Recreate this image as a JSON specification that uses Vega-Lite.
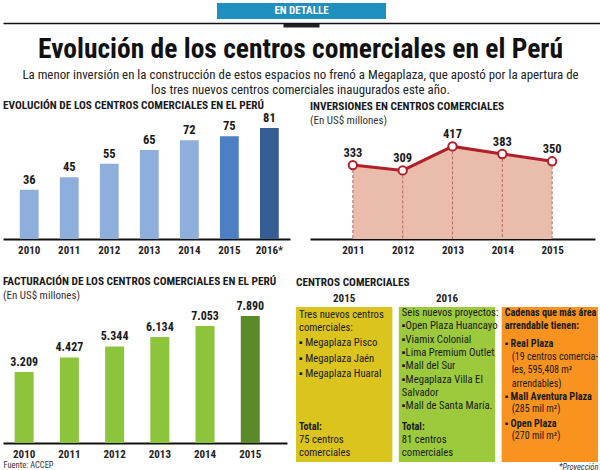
{
  "$schema": "https://vega.github.io/schema/vega-lite/v6.json",
  "padding": {"left": 3, "top": 3, "right": 0, "bottom": 0},
  "background": "white",
  "config": {
    "font": "Roboto Condensed",
    "view": {"stroke": null},
    "locale": {"number": {"decimal": ",", "thousands": ".", "grouping": [3], "currency": ["US$", ""]}},
    "title": {"anchor": "start", "fontSize": 11.3, "fontWeight": "bold", "color": "#1a1a1a", "subtitleFontSize": 11, "subtitleColor": "#333333", "subtitlePadding": 3, "offset": 2},
    "axis": {"labelFontWeight": "bold", "labelFontSize": 11, "labelColor": "#222222", "domainColor": "#111111", "domainWidth": 2, "ticks": false, "grid": false}
  },
  "spacing": -9,
  "resolve": {"scale": {"x": "independent", "y": "independent", "color": "independent"}},
  "vconcat": [
    {
      "width": 597,
      "height": 16,
      "data": {"values": [{"label": "EN DETALLE"}]},
      "layer": [
        {
          "mark": {"type": "bar", "color": "#1f8fbe"},
          "encoding": {
            "x": {"field": "label", "type": "nominal", "scale": {"paddingInner": 0.21, "paddingOuter": 1},
              "axis": {"title": null, "labels": false, "ticks": true, "tickSize": 4, "tickWidth": 36, "tickColor": "#222222", "domainColor": "#111111", "domainWidth": 1.5, "offset": 4}}
          }
        },
        {
          "mark": {"type": "text", "color": "white", "fontWeight": "bold", "fontSize": 11},
          "encoding": {
            "x": {"field": "label", "type": "nominal"},
            "text": {"field": "label"}
          }
        }
      ]
    },
    {
      "title": {
        "text": "Evolución de los centros comerciales en el Perú",
        "anchor": "middle",
        "fontSize": 27.5,
        "fontWeight": "bold",
        "color": "#111111",
        "offset": 3,
        "subtitle": ["La menor inversión en la construcción de estos espacios no frenó a Megaplaza, que apostó por la apertura de", "los tres nuevos centros comerciales inaugurados este año."],
        "subtitleFontSize": 12.9,
        "subtitleColor": "#222222",
        "subtitleLineHeight": 15,
        "subtitlePadding": 5
      },
      "spacing": 20,
      "resolve": {"scale": {"x": "independent", "y": "independent", "color": "independent"}},
      "vconcat": [
        {
          "spacing": 20,
          "resolve": {"scale": {"x": "independent", "y": "independent", "color": "independent"}},
          "hconcat": [
            {
              "width": 287,
              "height": 111,
              "title": {"text": "EVOLUCIÓN DE LOS CENTROS COMERCIALES EN EL PERÚ", "offset": 1},
              "data": {"values": [
                {"year": "2010", "centros": 36},
                {"year": "2011", "centros": 45},
                {"year": "2012", "centros": 55},
                {"year": "2013", "centros": 65},
                {"year": "2014", "centros": 72},
                {"year": "2015", "centros": 75},
                {"year": "2016*", "centros": 81}
              ]},
              "encoding": {
                "x": {"field": "year", "type": "ordinal", "scale": {"paddingInner": 0.53, "paddingOuter": 0.35, "align": 0.6},
                  "axis": {"title": null, "labelAngle": 0, "labelPadding": 5}},
                "y": {"field": "centros", "type": "quantitative", "scale": {"domain": [0, 81]}, "axis": null}
              },
              "layer": [
                {
                  "mark": {"type": "bar"},
                  "encoding": {
                    "color": {"field": "year", "type": "nominal",
                      "scale": {"domain": ["2010", "2011", "2012", "2013", "2014", "2015", "2016*"],
                        "range": ["#8eaedb", "#8eaedb", "#8eaedb", "#8eaedb", "#8eaedb", "#4d7fc3", "#375e94"]},
                      "legend": null}
                  }
                },
                {
                  "mark": {"type": "text", "baseline": "bottom", "dy": -3, "fontWeight": "bold", "fontSize": 12.5, "color": "#1a1a1a"},
                  "encoding": {"text": {"field": "centros", "type": "quantitative"}}
                }
              ]
            },
            {
              "width": 285,
              "height": 111,
              "title": {"text": "INVERSIONES EN CENTROS COMERCIALES", "subtitle": "(En US$ millones)"},
              "data": {"values": [
                {"year": "2011", "inversion": 333},
                {"year": "2012", "inversion": 309},
                {"year": "2013", "inversion": 417},
                {"year": "2014", "inversion": 383},
                {"year": "2015", "inversion": 350}
              ]},
              "encoding": {
                "x": {"field": "year", "type": "ordinal", "scale": {"type": "point", "padding": 0.86},
                  "axis": {"title": null, "labelAngle": 0, "labelPadding": 5}},
                "y": {"field": "inversion", "type": "quantitative", "scale": {"domain": [0, 500]}, "axis": null}
              },
              "layer": [
                {"mark": {"type": "area", "color": "#e9bcab", "opacity": 1}},
                {"mark": {"type": "rule", "color": "#b06a6a", "strokeDash": [3, 2], "strokeWidth": 1}, "encoding": {"y2": {"datum": 0}}},
                {"mark": {"type": "line", "color": "#b01f2a", "strokeWidth": 3}},
                {"mark": {"type": "point", "filled": true, "fill": "white", "stroke": "#b01f2a", "strokeWidth": 2, "size": 70, "opacity": 1}},
                {"mark": {"type": "text", "dy": -12, "fontWeight": "bold", "fontSize": 12.5, "color": "#1a1a1a"}, "encoding": {"text": {"field": "inversion", "type": "quantitative"}}}
              ]
            }
          ]
        },
        {
          "spacing": 9,
          "resolve": {"scale": {"x": "independent", "y": "independent", "color": "independent"}},
          "hconcat": [
            {
              "width": 284,
              "height": 136,
              "title": {"text": "FACTURACIÓN DE LOS CENTROS COMERCIALES EN EL PERÚ", "subtitle": "(En US$ millones)", "offset": -1},
              "data": {"values": [
                {"year": "2010", "facturacion": 3209},
                {"year": "2011", "facturacion": 4427},
                {"year": "2012", "facturacion": 5344},
                {"year": "2013", "facturacion": 6134},
                {"year": "2014", "facturacion": 7053},
                {"year": "2015", "facturacion": 7890}
              ]},
              "encoding": {
                "x": {"field": "year", "type": "ordinal", "scale": {"paddingInner": 0.58, "paddingOuter": 0.43, "align": 0.3},
                  "axis": {"title": "Fuente: ACCEP", "titleAnchor": "start", "titleFontSize": 8.5, "titleFontWeight": "normal", "titleColor": "#333333", "titlePadding": 1, "labelAngle": 0, "labelPadding": 5}},
                "y": {"field": "facturacion", "type": "quantitative", "scale": {"domain": [-2727, 8644], "nice": false, "zero": false}, "axis": null}
              },
              "layer": [
                {
                  "mark": {"type": "bar"},
                  "encoding": {
                    "y2": {"datum": -2727},
                    "color": {"field": "year", "type": "nominal",
                      "scale": {"domain": ["2010", "2011", "2012", "2013", "2014", "2015"],
                        "range": ["#8cc43c", "#8cc43c", "#8cc43c", "#8cc43c", "#8cc43c", "#5b8a28"]},
                      "legend": null}
                  }
                },
                {
                  "mark": {"type": "text", "baseline": "bottom", "dy": -3, "fontWeight": "bold", "fontSize": 12, "color": "#1a1a1a"},
                  "encoding": {"text": {"field": "facturacion", "type": "quantitative", "format": ","}}
                }
              ]
            },
            {
              "width": 302,
              "height": 155,
              "title": {"text": "CENTROS COMERCIALES", "offset": 4},
              "resolve": {"axis": {"x": "independent"}},
              "layer": [
                {
                  "data": {"values": [{"col": "2015"}, {"col": "2016"}, {"col": "Cadenas"}]},
                  "mark": {"type": "bar"},
                  "encoding": {
                    "x": {"field": "col", "type": "nominal", "sort": null,
                      "scale": {"domain": ["2015", "2016", "Cadenas"], "paddingInner": 0.063, "paddingOuter": 0},
                      "axis": {"orient": "top", "title": null, "domain": false, "labelAngle": 0, "labelExpr": "datum.value == 'Cadenas' ? '' : datum.value", "labelPadding": 4, "labelFontSize": 11}},
                    "color": {"field": "col", "type": "nominal",
                      "scale": {"domain": ["2015", "2016", "Cadenas"], "range": ["#dcc41e", "#9dca3c", "#f7931e"]},
                      "legend": null}
                  }
                },
                {
                  "data": {"name": "boxtext"},
                  "transform": [{"filter": {"field": "role", "oneOf": ["intro", "item", "total"]}}],
                  "mark": {"type": "text", "align": "left", "baseline": "middle", "dx": 3, "fontSize": 10.7, "color": "#1a1a1a"},
                  "encoding": {
                    "x": {"field": "col", "type": "nominal", "bandPosition": 0,
                      "axis": {"orient": "bottom", "labels": false, "domain": false, "title": "*Proyección", "titleAnchor": "end", "titleFontStyle": "italic", "titleFontSize": 8.5, "titleFontWeight": "normal", "titleColor": "#333333", "titlePadding": 0}},
                    "y": {"field": "line", "type": "quantitative", "scale": {"domain": [-0.45, 11.18], "reverse": true, "nice": false, "zero": false}, "axis": null},
                    "text": {"field": "text"}
                  }
                },
                {
                  "data": {"name": "boxtext"},
                  "transform": [{"filter": {"field": "role", "oneOf": ["header", "chain", "totalLabel"]}}],
                  "mark": {"type": "text", "align": "left", "baseline": "middle", "dx": 3, "fontSize": 10.2, "fontWeight": "bold", "color": "#1a1a1a"},
                  "encoding": {
                    "x": {"field": "col", "type": "nominal", "bandPosition": 0, "axis": null},
                    "y": {"field": "line", "type": "quantitative", "axis": null},
                    "text": {"field": "text"}
                  }
                },
                {
                  "data": {"name": "boxtext"},
                  "transform": [{"filter": {"field": "role", "oneOf": ["detail"]}}],
                  "mark": {"type": "text", "align": "left", "baseline": "middle", "dx": 10, "fontSize": 10, "color": "#1a1a1a"},
                  "encoding": {
                    "x": {"field": "col", "type": "nominal", "bandPosition": 0, "axis": null},
                    "y": {"field": "line", "type": "quantitative", "axis": null},
                    "text": {"field": "text"}
                  }
                }
              ]
            }
          ]
        }
      ]
    }
  ],
  "datasets": {
    "boxtext": [
      {"col": "2015", "line": 0.15, "role": "intro", "text": "Tres nuevos centros"},
      {"col": "2015", "line": 1.1, "role": "intro", "text": "comerciales:"},
      {"col": "2015", "line": 2.25, "role": "item", "text": "▪ Megaplaza Pisco"},
      {"col": "2015", "line": 3.45, "role": "item", "text": "▪ Megaplaza Jaén"},
      {"col": "2015", "line": 4.6, "role": "item", "text": "▪ Megaplaza Huaral"},
      {"col": "2015", "line": 8.57, "role": "totalLabel", "text": "Total:"},
      {"col": "2015", "line": 9.55, "role": "total", "text": "75 centros"},
      {"col": "2015", "line": 10.5, "role": "total", "text": "comerciales"},
      {"col": "2016", "line": 0, "role": "intro", "text": "Seis nuevos proyectos:"},
      {"col": "2016", "line": 1, "role": "item", "text": "▪Open Plaza Huancayo"},
      {"col": "2016", "line": 2, "role": "item", "text": "▪Viamix Colonial"},
      {"col": "2016", "line": 3, "role": "item", "text": "▪Lima Premium Outlet"},
      {"col": "2016", "line": 4, "role": "item", "text": "▪Mall del Sur"},
      {"col": "2016", "line": 5, "role": "item", "text": "▪Megaplaza Villa El"},
      {"col": "2016", "line": 6, "role": "item", "text": "Salvador"},
      {"col": "2016", "line": 7, "role": "item", "text": "▪Mall de  Santa María."},
      {"col": "2016", "line": 8.57, "role": "totalLabel", "text": "Total:"},
      {"col": "2016", "line": 9.55, "role": "total", "text": "81 centros"},
      {"col": "2016", "line": 10.5, "role": "total", "text": "comerciales"},
      {"col": "Cadenas", "line": 0, "role": "header", "text": "Cadenas que más área"},
      {"col": "Cadenas", "line": 1, "role": "header", "text": "arrendable tienen:"},
      {"col": "Cadenas", "line": 2.3, "role": "chain", "text": "▪ Real Plaza"},
      {"col": "Cadenas", "line": 3.3, "role": "detail", "text": "(19 centros comercia-"},
      {"col": "Cadenas", "line": 4.3, "role": "detail", "text": "les, 595,408 m²"},
      {"col": "Cadenas", "line": 5.3, "role": "detail", "text": "arrendables)"},
      {"col": "Cadenas", "line": 6.3, "role": "chain", "text": "▪ Mall Aventura Plaza"},
      {"col": "Cadenas", "line": 7.2, "role": "detail", "text": "(285 mil m²)"},
      {"col": "Cadenas", "line": 8.3, "role": "chain", "text": "▪ Open Plaza"},
      {"col": "Cadenas", "line": 9.2, "role": "detail", "text": "(270 mil m²)"}
    ]
  }
}
